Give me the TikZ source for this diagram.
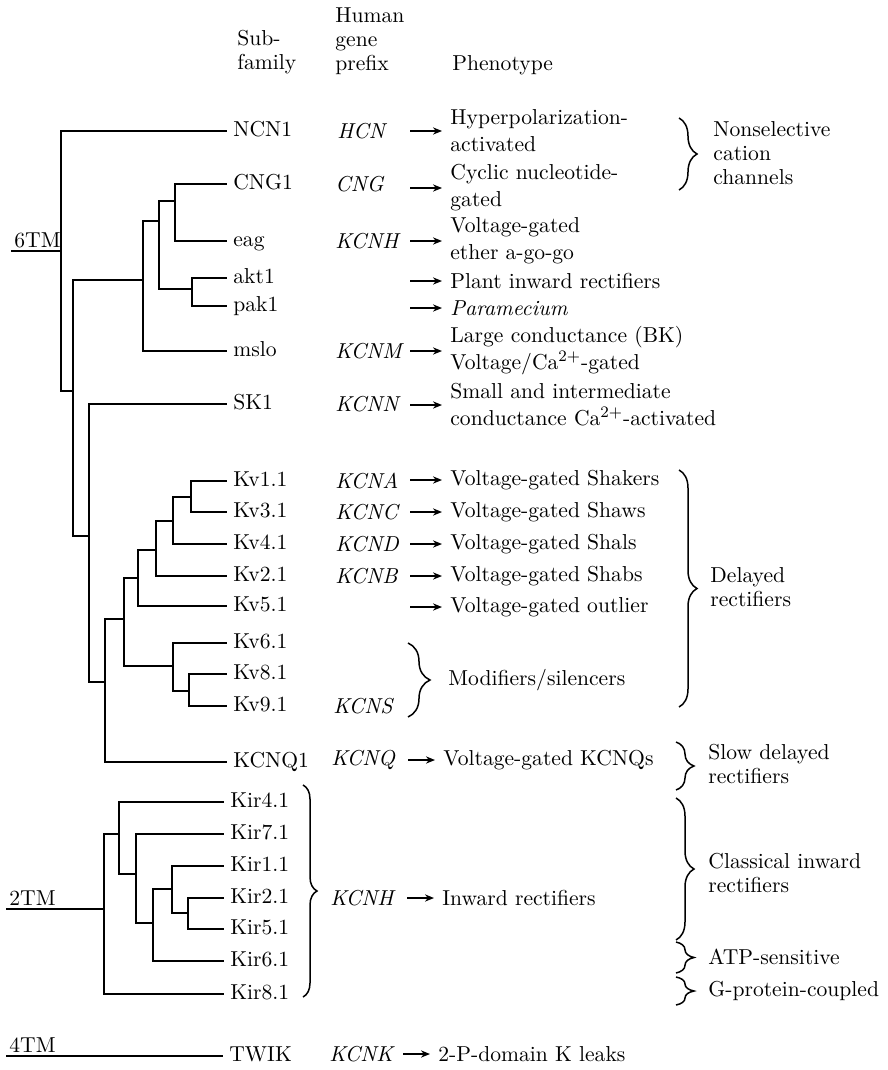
\documentclass[tikz,border=0pt]{standalone}
\usepackage{amsmath}
\usetikzlibrary{arrows.meta, decorations.pathreplacing}

\begin{document}
\begin{tikzpicture}[x=0.5pt, y=-0.5pt, every node/.style={font=\fontsize{10.8}{12}\selectfont}]

% -------------------------------------------------------
% Layout parameters (picture units, y grows downwards)
% -------------------------------------------------------
\def\xleaf{227}    % end of leaf branches
\def\xgene{335}    % human gene prefix column
\def\xphen{450}    % phenotype column
\def\xbr{679}      % right hand braces
\def\xgrp{710}     % group labels

\tikzstyle{branch} = [line width=0.7pt];
\tikzstyle{leaf} = [anchor=west, inner sep=3pt, text height=1.6ex, text depth=0.3ex];
\tikzstyle{gene} = [anchor=west, inner sep=0pt, font=\fontsize{10.8}{12}\selectfont\itshape];
\tikzstyle{phen} = [anchor=west, inner sep=0pt, align=left, font=\fontsize{10.8}{13.5}\selectfont];
\tikzstyle{group} = [anchor=west, inner sep=0pt, align=left];
\tikzstyle{phenarrow} = [line width=0.7pt, -{Stealth[length=4.5pt, width=3.6pt]}, shorten >=4pt];
\tikzstyle{grpbrace} = [decorate, decoration={brace, amplitude=9pt}, line width=0.75pt];

\useasboundingbox (0,0) rectangle (888,1070);

%%%%%% HEADERS
\node[group] (hsub) at (237,52) {Sub-\\family};
\node[group] (hgene) at (\xgene,41) {Human\\gene\\prefix};
\node[group] (hphen) at (452,65) {Phenotype};

%%%%%% INTERNAL NODES
% 6TM
\coordinate (r6) at (61,251);
\coordinate (nA) at (73,391);
\coordinate (nB) at (143,280);
\coordinate (nD) at (159,221);
\coordinate (nE) at (175,201);
\coordinate (nF) at (192,289);
\coordinate (nC) at (89,536);
\coordinate (nG) at (105,682);
\coordinate (nH) at (124,619);
\coordinate (nI) at (138,578);
\coordinate (nK) at (156,550);
\coordinate (nL) at (173,521);
\coordinate (nM) at (191,497);
\coordinate (nJ) at (173,666);
\coordinate (nN) at (189,691);
% 2TM
\coordinate (r2) at (104,909);
\coordinate (nP) at (119,834);
\coordinate (nQ) at (136,874);
\coordinate (nS) at (153,923);
\coordinate (nT) at (172,889);
\coordinate (nU) at (188,913);

%%%%%% LEAVES
\node[leaf] (ncn1) at (\xleaf,131) {NCN1};
\node[leaf] (cng1) at (\xleaf,184) {CNG1};
\node[leaf] (eag) at (\xleaf,241) {eag};
\node[leaf] (akt1) at (\xleaf,278) {akt1};
\node[leaf] (pak1) at (\xleaf,306) {pak1};
\node[leaf] (mslo) at (\xleaf,351) {mslo};
\node[leaf] (sk1) at (\xleaf,404) {SK1};
\node[leaf] (kv11) at (\xleaf,481) {Kv1.1};
\node[leaf] (kv31) at (\xleaf,512) {Kv3.1};
\node[leaf] (kv41) at (\xleaf,544) {Kv4.1};
\node[leaf] (kv21) at (\xleaf,576) {Kv2.1};
\node[leaf] (kv51) at (\xleaf,606) {Kv5.1};
\node[leaf] (kv61) at (\xleaf,643) {Kv6.1};
\node[leaf] (kv81) at (\xleaf,674) {Kv8.1};
\node[leaf] (kv91) at (\xleaf,706) {Kv9.1};
\node[leaf] (kcnq1) at (\xleaf,762) {KCNQ1};
\node[leaf] (kir41) at (\xleaf-3,802) {Kir4.1};
\node[leaf] (kir71) at (\xleaf-3,834) {Kir7.1};
\node[leaf] (kir11) at (\xleaf-3,866) {Kir1.1};
\node[leaf] (kir21) at (\xleaf-3,898) {Kir2.1};
\node[leaf] (kir51) at (\xleaf-3,929) {Kir5.1};
\node[leaf] (kir61) at (\xleaf-3,961) {Kir6.1};
\node[leaf] (kir81) at (\xleaf-3,994) {Kir8.1};
\node[leaf] (twik) at (\xleaf-4,1056) {TWIK};

%%%%%% CLASS LABELS
\node[anchor=south west, inner sep=1.5pt] (tm6) at (11,251) {6TM};
\node[anchor=south west, inner sep=1.5pt] (tm2) at (6,909) {2TM};
\node[anchor=south west, inner sep=1.5pt] (tm4) at (6,1056) {4TM};

%%%%%% BRANCHES
\draw[branch] (tm6.south west) -- (r6);
\draw[branch] (r6) |- (ncn1.west) (r6) |- (nA);
\draw[branch] (nA) |- (nB) (nA) |- (nC);
\draw[branch] (nB) |- (nD) (nB) |- (mslo.west);
\draw[branch] (nD) |- (nE) (nD) |- (nF);
\draw[branch] (nE) |- (cng1.west) (nE) |- (eag.west);
\draw[branch] (nF) |- (akt1.west) (nF) |- (pak1.west);
\draw[branch] (nC) |- (sk1.west) (nC) |- (nG);
\draw[branch] (nG) |- (nH) (nG) |- (kcnq1.west);
\draw[branch] (nH) |- (nI) (nH) |- (nJ);
\draw[branch] (nI) |- (nK) (nI) |- (kv51.west);
\draw[branch] (nK) |- (nL) (nK) |- (kv21.west);
\draw[branch] (nL) |- (nM) (nL) |- (kv41.west);
\draw[branch] (nM) |- (kv11.west) (nM) |- (kv31.west);
\draw[branch] (nJ) |- (kv61.west) (nJ) |- (nN);
\draw[branch] (nN) |- (kv81.west) (nN) |- (kv91.west);

\draw[branch] (tm2.south west) -- (r2);
\draw[branch] (r2) |- (nP) (r2) |- (kir81.west);
\draw[branch] (nP) |- (kir41.west) (nP) |- (nQ);
\draw[branch] (nQ) |- (kir71.west) (nQ) |- (nS);
\draw[branch] (nS) |- (nT) (nS) |- (kir61.west);
\draw[branch] (nT) |- (kir11.west) (nT) |- (nU);
\draw[branch] (nU) |- (kir21.west) (nU) |- (kir51.west);

\draw[branch] (tm4.south west) -- (twik.west);

%%%%%% GENE PREFIXES
\node[gene] (hcn) at (\xgene+2,131) {HCN};
\node[gene] (cng) at (\xgene,184) {CNG};
\node[gene] (kcnh) at (\xgene,241) {KCNH};
\node[gene] (kcnm) at (\xgene,351) {KCNM};
\node[gene] (kcnn) at (\xgene,404) {KCNN};
\node[gene] (kcna) at (\xgene,481) {KCNA};
\node[gene] (kcnc) at (\xgene,512) {KCNC};
\node[gene] (kcnd) at (\xgene,544) {KCND};
\node[gene] (kcnb) at (\xgene,576) {KCNB};
\node[gene] (kcns) at (\xgene-2,706) {KCNS};
\node[gene] (kcnq) at (\xgene-4,760) {KCNQ};
\node[gene] (kcnhi) at (\xgene-5,898) {KCNH};
\node[gene] (kcnk) at (\xgene-6,1054) {KCNK};

%%%%%% PHENOTYPES
\node[phen] (phyp) at (\xphen,131) {Hyperpolarization-\\activated};
\node[phen] (pcyc) at (\xphen,188) {Cyclic nucleotide-\\gated};
\node[phen] (peag) at (\xphen,241) {Voltage-gated\\ether a-go-go};
\node[phen] (pplant) at (\xphen,281) {Plant inward rectifiers};
\node[phen] (ppara) at (\xphen,308) {\textit{Paramecium}};
\node[phen] (pbk) at (\xphen,351) {Large conductance (BK)\\Voltage/Ca$^{2+}$-gated};
\node[phen] (psk) at (\xphen,405) {Small and intermediate\\conductance Ca$^{2+}$-activated};
\node[phen] (pshak) at (\xphen,480) {Voltage-gated Shakers};
\node[phen] (pshaw) at (\xphen,512) {Voltage-gated Shaws};
\node[phen] (pshal) at (\xphen,544) {Voltage-gated Shals};
\node[phen] (pshab) at (\xphen,576) {Voltage-gated Shabs};
\node[phen] (pout) at (\xphen,607) {Voltage-gated outlier};
\node[phen] (pkcnq) at (443,760) {Voltage-gated KCNQs};
\node[phen] (pinw) at (442,898) {Inward rectifiers};
\node[phen] (pleak) at (438,1054) {2-P-domain K leaks};

%%%%%% ARROWS
\foreach \p in {phyp, pcyc, peag, pplant, ppara, pbk, psk, pshak, pshaw, pshal, pshab, pout}
  \draw[phenarrow] ([xshift=-20pt]\p.west) -- (\p.west);
\foreach \p in {pkcnq, pinw, pleak}
  \draw[phenarrow] ([xshift=-17.5pt]\p.west) -- (\p.west);

%%%%%% BRACES AND GROUPS
\draw[grpbrace, decoration={amplitude=7pt}] (303,785) -- (303,997); % Kir
\draw[grpbrace, decoration={amplitude=11pt}] (408,643) -- (408,717); % Kv6/8/9
\node[group] (pmod) at (448,680) {Modifiers/silencers};

\draw[grpbrace] (\xbr,118) -- (\xbr,190);
\node[group] (gnon) at (\xgrp+3,153) {Nonselective\\cation\\channels};
\draw[grpbrace] (\xbr,470) -- (\xbr,707);
\node[group] (gdel) at (\xgrp,587) {Delayed\\rectifiers};
\draw[grpbrace] (\xbr-3,742) -- (\xbr-3,790);
\node[group] (gslow) at (\xgrp-2,764) {Slow delayed\\rectifiers};
\draw[grpbrace] (\xbr-3,798) -- (\xbr-3,940);
\node[group] (gcla) at (\xgrp-2,873) {Classical inward\\rectifiers};
\draw[grpbrace] (\xbr-3,942) -- (\xbr-3,973);
\node[group] (gatp) at (\xgrp-2,957) {ATP-sensitive};
\draw[grpbrace] (\xbr-3,977) -- (\xbr-3,1005);
\node[group] (ggp) at (\xgrp-2,991) {G-protein-coupled};

\end{tikzpicture}
\end{document}
